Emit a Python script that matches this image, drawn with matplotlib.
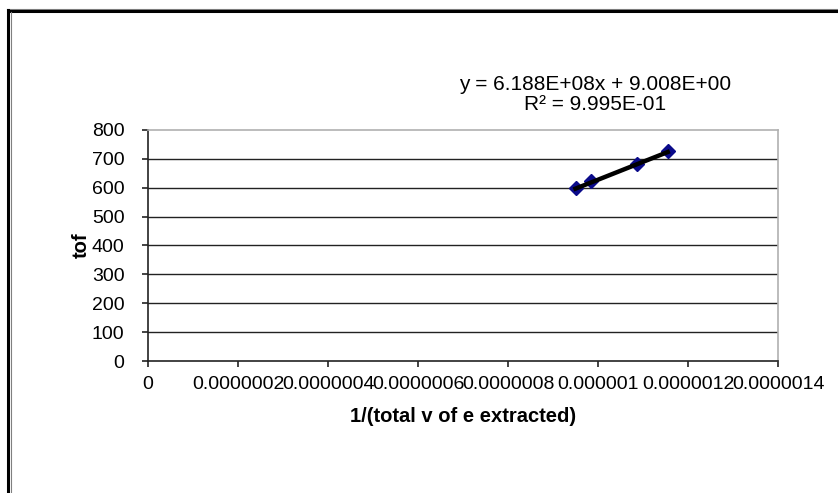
import matplotlib
matplotlib.use("Agg")
import matplotlib.pyplot as plt
import matplotlib.ticker as ticker
from matplotlib.lines import Line2D

# extraction data
inv_volume = [9.50e-7, 9.85e-7, 1.086e-6, 1.155e-6]
tof = [600, 622, 682, 726]

# fitted trendline
slope = 6.188e8
intercept = 9.008
r_squared = 0.9995

x_ticks = [0, 2e-7, 4e-7, 6e-7, 8e-7, 1e-6, 1.2e-6, 1.4e-6]
y_ticks = [0, 100, 200, 300, 400, 500, 600, 700, 800]

plt.rcParams['font.family'] = ['Liberation Sans', 'DejaVu Sans']

fig = plt.figure(figsize=(8.38, 4.93), dpi=100)
ax = fig.add_axes([148 / 838, 1 - 361 / 493, 630 / 838, 231 / 493])

ax.set_xlim(0, 1.4e-6)
ax.set_ylim(0, 800)
ax.set_xticks(x_ticks)
ax.set_yticks(y_ticks)

def fmt_x(v, pos):
    if v == 0:
        return '0'
    return ('%.7f' % v).rstrip('0')

ax.xaxis.set_major_formatter(ticker.FuncFormatter(fmt_x))

for y in y_ticks[1:-1]:
    ax.axhline(y, color='#222222', lw=1.0, zorder=1)

ax.spines['top'].set_color('#b0b0b0')
ax.spines['right'].set_color('#b0b0b0')
ax.spines['left'].set_color('#222222')
ax.spines['bottom'].set_color('#222222')
for s in ax.spines.values():
    s.set_linewidth(1.2)

ax.tick_params(direction='out', length=4.5, width=1.2, color='#222222',
               labelsize=14)
ax.tick_params(axis='x', pad=6.5)
ax.tick_params(axis='y', pad=12.5)

ax.plot(inv_volume, tof, linestyle='none', marker='D', markersize=7,
        color='#0a0a8a', zorder=3)
x0, x1 = inv_volume[0], inv_volume[-1]
ax.plot([x0, x1], [slope * x0 + intercept, slope * x1 + intercept],
        color='black', lw=3.2, zorder=4)

ax.set_xlabel('1/(total v of e extracted)', fontsize=14.5, fontweight='bold',
              labelpad=10)
ax.set_ylabel('tof', fontsize=14.5, fontweight='bold', labelpad=1)

eq = 'y = %.3EX + %.3E' % (slope, intercept)
eq = eq.replace('X', 'x')
fig.text(595 / 838, 1 - 84 / 493, eq, fontsize=15, ha='center', va='center')
fig.text(595 / 838, 1 - 104 / 493, 'R² = %.3E' % r_squared, fontsize=15,
         ha='center', va='center')

# outer frame
fig.add_artist(Line2D([7 / 838, 1], [1 - 9 / 493, 1 - 9 / 493],
                      transform=fig.transFigure, color='#808080', lw=0.8))
fig.add_artist(Line2D([8.5 / 838, 1], [1 - 11.3 / 493, 1 - 11.3 / 493],
                      transform=fig.transFigure, color='black', lw=2.2))
fig.add_artist(Line2D([8.3 / 838, 8.3 / 838], [0, 1 - 10 / 493],
                      transform=fig.transFigure, color='black', lw=2.2))
fig.add_artist(Line2D([10.6 / 838, 10.6 / 838], [0, 1 - 12 / 493],
                      transform=fig.transFigure, color='#808080', lw=0.8))

fig.savefig('out.png', dpi=100)
